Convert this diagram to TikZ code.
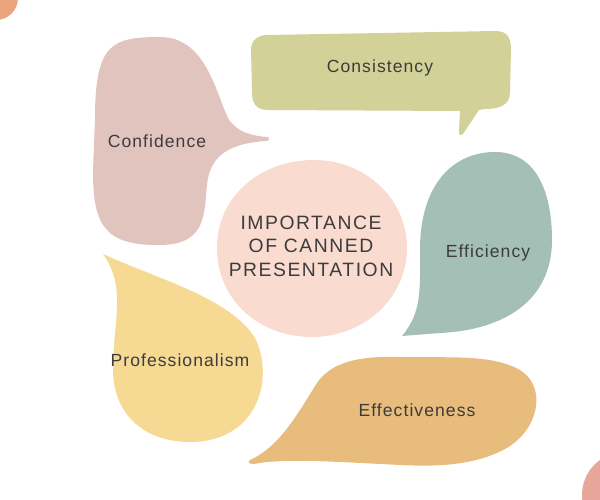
\documentclass[tikz,border=0pt]{standalone}
\usepackage{fontspec}
\usepackage{xcolor}
\setmainfont{Liberation Sans}
\newfontfamily\handfont[LetterSpace=6]{Liberation Sans}
\newfontfamily\capsfont[LetterSpace=8]{Liberation Sans}
\definecolor{inkgray}{HTML}{3C3C3C}
\definecolor{confpink}{HTML}{E2C4BF}
\definecolor{consolive}{HTML}{D2D198}
\definecolor{titlepeach}{HTML}{F9DBD0}
\definecolor{effisage}{HTML}{A3BFB6}
\definecolor{profyellow}{HTML}{F6D993}
\definecolor{effetan}{HTML}{E7BC7C}
\definecolor{cornerorange}{HTML}{E9A47C}
\definecolor{cornersalmon}{HTML}{E8A69A}
\begin{document}
\begin{tikzpicture}[x=0.02cm,y=-0.02cm,
    lbl/.style={text=inkgray,font=\handfont\fontsize{10}{12}\selectfont},
    ttl/.style={text=inkgray,align=center,font=\capsfont\fontsize{11}{13.3}\selectfont}]
    \useasboundingbox (0,0) rectangle (600,500);
    \begin{scope}
      \clip (0,0) rectangle (600,500);
      \fill[cornerorange] (-4,-2) circle (22);
      \fill[cornersalmon] (625,495) circle (43);
    \end{scope}
    \fill[confpink] (95,120) .. controls (95,45) and (110,37) .. (160,37)
      .. controls (205,37) and (215,90) .. (228,118)
      .. controls (236,132) and (252,136) .. (268,137)
      .. controls (270,139) and (269,141) .. (266,141)
      .. controls (238,143) and (214,150) .. (208,178)
      .. controls (203,205) and (212,245) .. (160,245)
      .. controls (102,246) and (93,222) .. (93,170) -- cycle;
    \fill[consolive] (268,35) -- (495,31) .. controls (508,31) and (511,38) .. (511,50)
      -- (510,92) .. controls (510,105) and (500,109) .. (485,109)
      -- (479,110) -- (463,134) .. controls (461,136) and (459,135) .. (459,132)
      -- (460,111) -- (268,110) .. controls (255,110) and (252,102) .. (252,92)
      -- (251,50) .. controls (251,40) and (258,35) .. (268,35) -- cycle;
    \fill[titlepeach] (312,160) .. controls (364,159) and (407,198) .. (407,248)
      .. controls (407,298) and (364,337) .. (312,337)
      .. controls (259,337) and (217,300) .. (217,248)
      .. controls (217,197) and (259,161) .. (312,160) -- cycle;
    \fill[effisage] (402,336) .. controls (422,312) and (420,290) .. (420,250)
      .. controls (420,182) and (455,152) .. (495,152)
      .. controls (538,152) and (552,195) .. (552,240)
      .. controls (552,300) and (505,330) .. (440,333) -- cycle;
    \fill[profyellow] (103,254) .. controls (160,280) and (230,298) .. (255,338)
      .. controls (275,378) and (258,442) .. (190,442)
      .. controls (140,442) and (113,410) .. (113,370)
      .. controls (113,320) and (127,288) .. (103,254) -- cycle;
    \fill[effetan] (250,460) .. controls (276,448) and (292,424) .. (315,386)
      .. controls (330,361) and (360,356) .. (400,357)
      .. controls (450,358) and (492,354) .. (520,370)
      .. controls (546,386) and (540,426) .. (510,446)
      .. controls (480,465) and (440,467) .. (400,465)
      .. controls (340,462) and (282,458) .. (254,464)
      .. controls (249,464) and (247,462) .. (250,460) -- cycle;
    \node[lbl] (conf) at (157,141) {Confidence};
    \node[lbl] (cons) at (380,68) {Consistency};
    \node[ttl] (title) at (311,246) {IMPORTANCE\\OF CANNED\\PRESENTATION};
    \node[lbl] (effi) at (488,253) {Efficiency};
    \node[lbl] (prof) at (180,360) {Professionalism};
    \node[lbl] (effe) at (417,410) {Effectiveness};
\end{tikzpicture}
\end{document}
